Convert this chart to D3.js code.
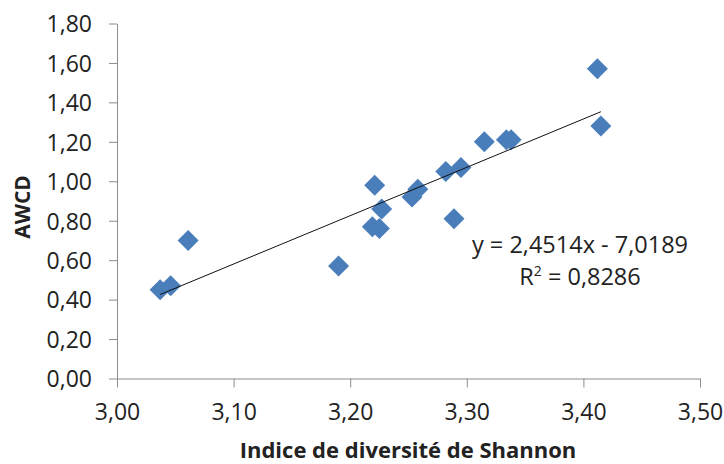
<!DOCTYPE html>
<html>
<head>
<meta charset="utf-8">
<script src="https://cdn.jsdelivr.net/npm/d3@7"></script>
<style>
  body { margin: 0; background: #fff; }
  text { font-family: "Open Sans", sans-serif; fill: #222; }
</style>
</head>
<body>
<div id="chart"></div>
<script>
// Shannon diversity index (x) vs AWCD (y)
var shannon = [3.037, 3.046, 3.061, 3.190, 3.221, 3.219, 3.225, 3.227, 3.253, 3.258,
               3.282, 3.289, 3.295, 3.315, 3.334, 3.338, 3.412, 3.415];
var awcd    = [0.45, 0.47, 0.70, 0.57, 0.98, 0.77, 0.76, 0.86, 0.92, 0.96,
               1.05, 0.81, 1.07, 1.20, 1.21, 1.21, 1.57, 1.28];
var xTicks = [3.0, 3.1, 3.2, 3.3, 3.4, 3.5];
var yTicks = [0, 0.2, 0.4, 0.6, 0.8, 1.0, 1.2, 1.4, 1.6, 1.8];
var slope = 2.4514, intercept = -7.0189;
var eqLabel = "y = 2,4514x - 7,0189";
var r2Label = "0,8286";

var w = 724, h = 464;
var margin = {top: 23.5, right: 24, bottom: 85.5, left: 117};
var width = w - margin.left - margin.right;
var height = h - margin.top - margin.bottom;

var fmt = function(d) { return d3.format(".2f")(d).replace(".", ","); };

var svg = d3.select("#chart")
  .append("svg")
    .attr("width", w)
    .attr("height", h)
  .append("g")
    .attr("transform", "translate(" + margin.left + "," + margin.top + ")");

var x = d3.scaleLinear()
  .domain([3.0, 3.5])
  .range([0, width]);

var y = d3.scaleLinear()
  .domain([0, 1.8])
  .range([height, 0]);

// X axis
var xAxis = svg.append("g")
  .attr("transform", "translate(0," + height + ")")
  .call(d3.axisBottom(x).tickValues(xTicks).tickFormat(fmt).tickSizeInner(9).tickSizeOuter(0).tickPadding(16));

// Y axis
var yAxis = svg.append("g")
  .call(d3.axisLeft(y).tickValues(yTicks).tickFormat(fmt).tickSizeInner(8).tickSizeOuter(0).tickPadding(17));

[xAxis, yAxis].forEach(function(a) {
  a.select(".domain").attr("stroke", "#8c8c8c");
  a.selectAll(".tick line").attr("stroke", "#8c8c8c");
  a.selectAll(".tick text")
    .attr("font-family", "Open Sans, sans-serif")
    .attr("font-size", "23px")
    .attr("fill", "#222");
});
yAxis.selectAll(".tick text").attr("dy", "0.36em");

// Axis labels
svg.append("text")
  .attr("text-anchor", "middle")
  .attr("x", 408 - margin.left)
  .attr("y", 458 - margin.top)
  .attr("font-size", "22px")
  .attr("font-weight", 700)
  .text("Indice de diversité de Shannon");

svg.append("text")
  .attr("text-anchor", "middle")
  .attr("transform", "rotate(-90)")
  .attr("x", -(207 - margin.top))
  .attr("y", 30 - margin.left)
  .attr("font-size", "21px")
  .attr("font-weight", 700)
  .text("AWCD");

// Points (diamonds)
var pts = shannon.map(function(d, i) { return [d, awcd[i]]; });
svg.selectAll("mydots")
  .data(pts)
  .enter()
  .append("path")
    .attr("d", "M0,-10.5L10.5,0L0,10.5L-10.5,0Z")
    .attr("transform", function(d) { return "translate(" + x(d[0]) + "," + y(d[1]) + ")"; })
    .attr("fill", "#4a7ebb");

// Linear trendline
var xr = d3.extent(shannon);
svg.append("line")
  .attr("x1", x(xr[0]))
  .attr("y1", y(slope * xr[0] + intercept))
  .attr("x2", x(xr[1]))
  .attr("y2", y(slope * xr[1] + intercept))
  .attr("stroke", "#111")
  .attr("stroke-width", 1);

// Equation
svg.append("text")
  .attr("text-anchor", "middle")
  .attr("x", 580 - margin.left)
  .attr("y", 253 - margin.top)
  .attr("font-size", "23.5px")
  .text(eqLabel);

var r2 = svg.append("text")
  .attr("text-anchor", "middle")
  .attr("x", 580 - margin.left)
  .attr("y", 285 - margin.top)
  .attr("font-size", "23.5px");
r2.append("tspan").text("R");
r2.append("tspan").attr("font-size", "14px").attr("dy", "-9").text("2");
r2.append("tspan").attr("dy", "9").text(" = " + r2Label);
</script>
</body>
</html>
